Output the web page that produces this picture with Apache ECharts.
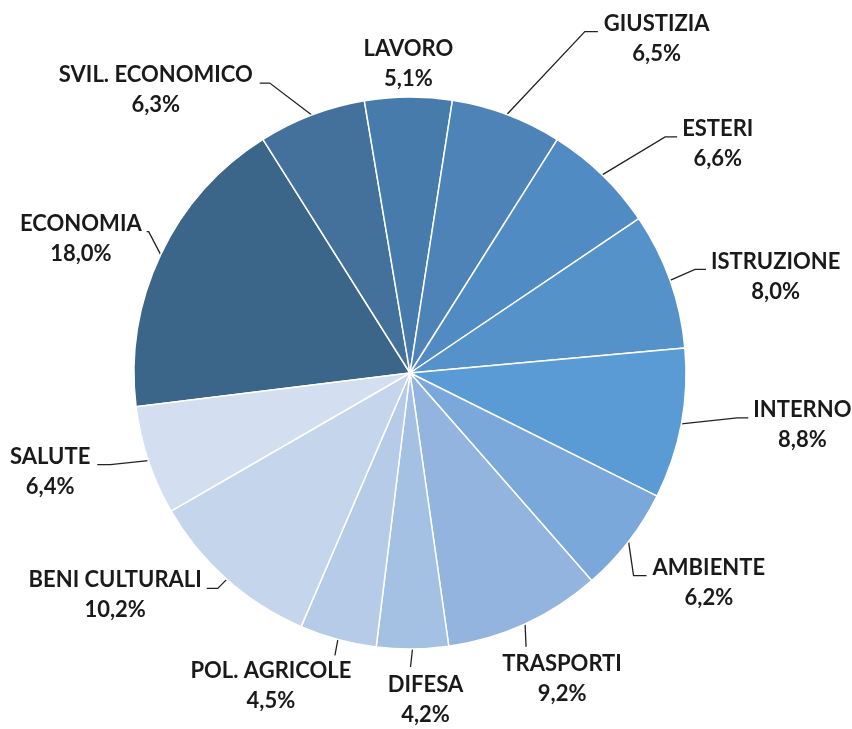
<!DOCTYPE html>
<html lang="it">
  <head>
    <meta charset="UTF-8" />
    <script src="https://cdn.jsdelivr.net/npm/echarts@6/dist/echarts.min.js"></script>
    <title>Ripartizione per ministero</title>
    <style>
      html, body { margin: 0; padding: 0; background: #fff; }
    </style>
  </head>
  <body>
    <div id="container" style="width: 852px; height: 729px;"></div>

    <script>
      // data, clockwise starting from ECONOMIA
      const categories = [
        "ECONOMIA",
        "SVIL. ECONOMICO",
        "LAVORO",
        "GIUSTIZIA",
        "ESTERI",
        "ISTRUZIONE",
        "INTERNO",
        "AMBIENTE",
        "TRASPORTI",
        "DIFESA",
        "POL. AGRICOLE",
        "BENI CULTURALI",
        "SALUTE",
      ];
      const shares = [18.0, 6.3, 5.1, 6.5, 6.6, 8.0, 8.8, 6.2, 9.2, 4.2, 4.5, 10.2, 6.4];

      const sliceColors = [
        "#3c6689", "#43719c", "#477bab", "#4d83b7", "#518bc3", "#5592ca", "#5b9bd5",
        "#7aa8da", "#92b4de", "#a4c0e3", "#b5cbe8", "#c5d5ec", "#d3dff0",
      ];

      // leader line shape per slice: offset of the line end from the slice edge,
      // horizontal tail, gap to text, side of the text
      const leaders = [
        { side: "L", dx: -14, dy: -23, tail: 2, gap: 5 },
        { side: "L", dx: -52, dy: -32, tail: 10, gap: 7 },
        { side: "T", gap: 2 },
        { side: "R", dx: 91, dy: -83, tail: 13, gap: 6 },
        { side: "R", dx: 75, dy: -38, tail: 12, gap: 5 },
        { side: "R", dx: 36, dy: -11, tail: 11, gap: 5 },
        { side: "R", dx: 67, dy: -6, tail: 11, gap: 5 },
        { side: "R", dx: 18, dy: 34, tail: 13, gap: 6 },
        { side: "B", dx: 1, dy: 23, gap: 10, shift: 36 },
        { side: "B", dx: -2, dy: 18, gap: 11, shift: 15 },
        { side: "B", dx: -3, dy: 16, gap: 8, shift: -64 },
        { side: "L", dx: -20, dy: 9, tail: 11, gap: 5 },
        { side: "L", dx: -51, dy: 4, tail: 13, gap: 7 },
      ];

      const myChart = echarts.init(document.getElementById("container"), null, { renderer: "canvas" });

      const pieData = categories.map((name, i) => ({
        name: name,
        value: shares[i],
        itemStyle: { color: sliceColors[i] },
        labelLine: { show: leaders[i].side !== "T" },
      }));

      const option = {
        animation: false,
        series: [
          {
            type: "pie",
            center: [410, 373],
            radius: 276,
            startAngle: 187,
            clockwise: true,
            avoidLabelOverlap: false,
            minShowLabelAngle: 0,
            data: pieData,
            itemStyle: { borderColor: "#ffffff", borderWidth: 1.5 },
            emphasis: { disabled: true },
            label: {
              show: true,
              position: "outside",
              fontFamily: "Lato",
              fontWeight: "bold",
              fontSize: 22,
              lineHeight: 30,
              color: "#1a1a1a",
              formatter: (p) => p.name + "\n" + p.value.toFixed(1).replace(".", ",") + "%",
            },
            labelLine: {
              show: true,
              length: 10,
              length2: 10,
              lineStyle: { color: "#222222", width: 1.3 },
            },
            labelLayout: function (p) {
              const cfg = leaders[p.dataIndex];
              const w = p.labelRect.width;
              if (cfg.side === "T") {
                return {
                  x: p.rect.x + p.rect.width / 2,
                  y: p.rect.y - cfg.gap,
                  align: "center",
                  verticalAlign: "bottom",
                };
              }
              const p0 = p.labelLinePoints[0];
              const end = [p0[0] + cfg.dx, p0[1] + cfg.dy];
              if (cfg.side === "B") {
                return {
                  x: end[0] + cfg.shift,
                  y: end[1] + cfg.gap - 8,
                  align: "center",
                  verticalAlign: "top",
                  labelLinePoints: [p0, end],
                };
              }
              const s = cfg.side === "R" ? 1 : -1;
              const elbow = [end[0] - s * cfg.tail, end[1]];
              return {
                x: end[0] + s * (cfg.gap + w / 2),
                y: end[1] - 23,
                align: "center",
                verticalAlign: "top",
                labelLinePoints: [p0, elbow, end],
              };
            },
          },
        ],
      };

      myChart.setOption(option);
    </script>
  </body>
</html>
